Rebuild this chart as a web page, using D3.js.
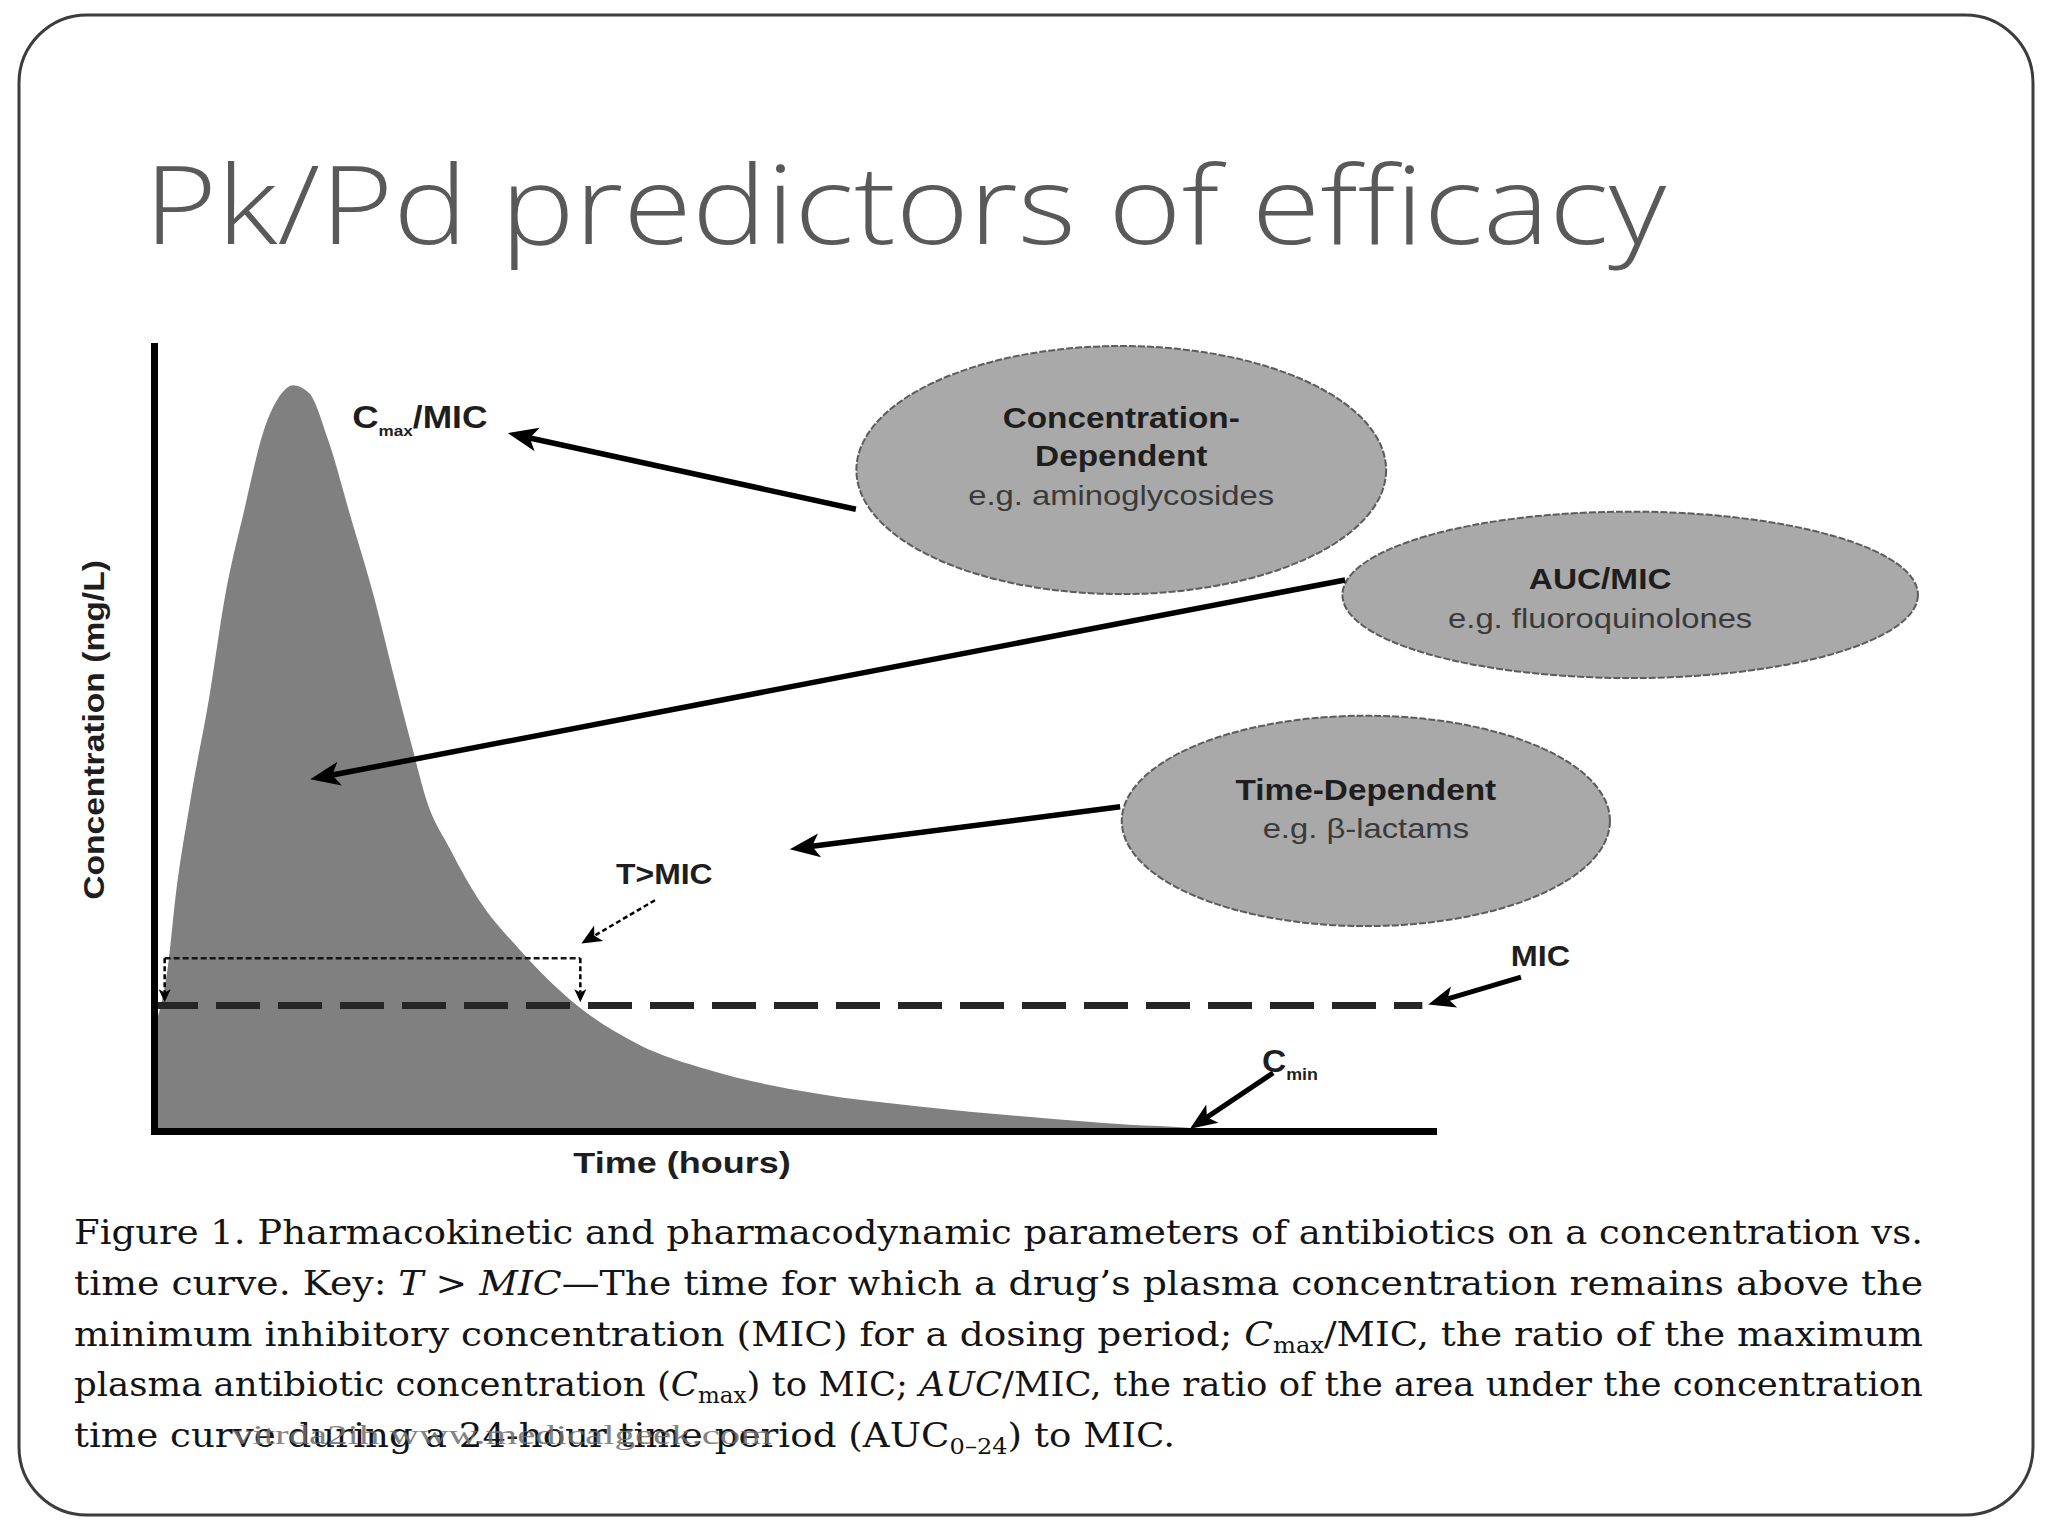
<!DOCTYPE html>
<html>
<head>
<meta charset="utf-8">
<script src="https://cdn.jsdelivr.net/npm/d3@7"></script>
<style>
    html, body { margin: 0; padding: 0; background: #fff; }
    #chart-area { width: 2048px; height: 1536px; }
</style>
</head>
<body>
<div id="chart-area"></div>
<script>

// concentration-time curve (x = hours, y = % of axis height)
const hours = [0, 0.28, 0.39, 0.68, 1.03, 1.33, 1.69, 2.05, 2.4, 2.61, 2.91, 3.27, 3.7, 4.13,
    4.48, 4.84, 5.12, 5.55, 6.14, 6.85, 7.94, 9.1, 10.4, 12.4, 14.4, 16.4, 18.3, 19.4, 19.6];
const concentration = [13, 22, 29, 42, 55, 68, 79, 89, 94, 95, 94, 88, 78, 68,
    58.5, 49, 42, 36, 29, 23.2, 16, 11, 7.8, 4.8, 3.1, 1.8, 0.8, 0.4, 0];

const micLevel = 16;
const micLineEnd = 23.8;
const aboveMicWindow = [0.2, 8.0];
const bracketLevel = 22;

const axisTitles = ["Time (hours)", "Concentration (mg/L)"];
const classTitles = [["Concentration-", "Dependent"], ["AUC/MIC"], ["Time-Dependent"]];
const classExamples = ["e.g. aminoglycosides", "e.g. fluoroquinolones", "e.g. \u03b2-lactams"];

const slideTitle = "Pk/Pd predictors of efficacy";
const captionLines = [
    [["Figure 1. Pharmacokinetic and pharmacodynamic parameters of antibiotics on a concentration vs.", ""]],
    [["time curve. Key: ", ""], ["T > MIC", "i"], ["\u2014The time for which a drug\u2019s plasma concentration remains above the", ""]],
    [["minimum inhibitory concentration (MIC) for a dosing period; ", ""], ["C", "i"], ["max", "sub"], ["/MIC, the ratio of the maximum", ""]],
    [["plasma antibiotic concentration (", ""], ["C", "i"], ["max", "sub"], [") to MIC; ", ""], ["AUC", "i"], ["/MIC, the ratio of the area under the concentration", ""]],
    [["time curve during a 24-hour time period (AUC", ""], ["0\u201324", "sub"], [") to MIC.", ""]]
];
const watermark = "vitrda2ih www.medicalgeek.com";


class PkPdChart {

    constructor(parentElement) {
        this.parentElement = parentElement;
        this.displayData = hours.map((t, i) => ({t: t, c: concentration[i]}));
    }

    initVis() {
        let vis = this;

        vis.svg = d3.select("#" + vis.parentElement).append("svg")
            .attr("width", 2048)
            .attr("height", 1536);

        // slide frame
        vis.svg.append("rect")
            .attr("x", 19).attr("y", 15)
            .attr("width", 2014).attr("height", 1500)
            .attr("rx", 68).attr("ry", 68)
            .style("fill", "#fff")
            .style("stroke", "#3c3c3c")
            .style("stroke-width", 3);

        vis.svg.append("text")
            .attr("x", 144)
            .attr("y", 244)
            .attr("textLength", 1522)
            .attr("lengthAdjust", "spacingAndGlyphs")
            .text(slideTitle)
            .style("font-family", "'Open Sans', 'Noto Sans', sans-serif")
            .style("font-weight", 300)
            .style("font-size", "108px")
            .style("fill", "#595959");

        // scales
        vis.x = d3.scaleLinear().domain([0, 24]).range([154, 1433]);
        vis.y = d3.scaleLinear().domain([0, 100]).range([1131, 346]);

        // shaded area under the curve
        vis.area = d3.area()
            .x(d => vis.x(d.t))
            .y0(vis.y(0))
            .y1(d => vis.y(d.c))
            .curve(d3.curveMonotoneX);

        vis.svg.append("path")
            .datum(vis.displayData)
            .attr("d", vis.area)
            .style("fill", "#808080");

        // MIC dashed line
        vis.line = d3.line().x(d => vis.x(d[0])).y(d => vis.y(d[1]));
        vis.svg.append("path")
            .attr("d", vis.line([[0, micLevel], [micLineEnd, micLevel]]))
            .style("fill", "none")
            .style("stroke", "#262626")
            .style("stroke-width", 7)
            .style("stroke-dasharray", "44,18");

        // T>MIC bracket (dotted)
        vis.svg.append("path")
            .attr("d", vis.line([[aboveMicWindow[0], bracketLevel], [aboveMicWindow[1], bracketLevel]]))
            .style("fill", "none")
            .style("stroke", "#161616")
            .style("stroke-width", 2.5)
            .style("stroke-dasharray", "6,3");
        aboveMicWindow.forEach(t => {
            vis.drawArrow([t, bracketLevel], [t, micLevel + 0.4], {width: 2.5, head: 13, half: 6, dash: "5,3"});
        });

        // axes, no ticks
        let xAxis = d3.axisBottom(vis.x).tickValues([]).tickSizeOuter(0);
        let yAxis = d3.axisLeft(vis.y).tickValues([]).tickSizeOuter(0);

        vis.svg.append("g")
            .attr("transform", "translate(0," + vis.y(0) + ")")
            .call(xAxis)
            .call(g => g.select(".domain").style("stroke", "#000").style("stroke-width", 7).style("stroke-linecap", "square"));
        vis.svg.append("g")
            .attr("transform", "translate(" + vis.x(0) + ",0)")
            .call(yAxis)
            .call(g => g.select(".domain").style("stroke", "#000").style("stroke-width", 7).style("stroke-linecap", "square"));

        // axis titles
        let xt = vis.svg.append("text")
            .attr("x", 682).attr("y", 1173)
            .attr("text-anchor", "middle")
            .text(axisTitles[0]);
        vis.boldLabel(xt, 30);
        vis.stretch(xt, 1.2);

        let yt = vis.svg.append("text")
            .attr("transform", "translate(104,730) rotate(-90)")
            .attr("text-anchor", "middle")
            .text(axisTitles[1]);
        vis.boldLabel(yt, 30);
        vis.stretch(yt, 1.12);

        // class bubbles (positions in data units)
        vis.bubbles = [
            {cx: 18.15, cy: 84.2, rx: 4.97, ry: 15.8, dx: 0, lines: [-42, -4, 35]},
            {cx: 27.7, cy: 68.3, rx: 5.4, ry: 10.6, dx: -30, lines: [-6, 33]},
            {cx: 22.74, cy: 39.5, rx: 4.58, ry: 13.4, dx: 0, lines: [-21, 17]}
        ];

        vis.bubbles.forEach((b, i) => {
            let cx = vis.x(b.cx), cy = vis.y(b.cy);
            vis.svg.append("ellipse")
                .attr("cx", cx).attr("cy", cy)
                .attr("rx", vis.x(b.cx + b.rx) - cx)
                .attr("ry", vis.y(b.cy - b.ry) - cy)
                .style("fill", "#a9a9a9")
                .style("stroke", "#5c5c5c")
                .style("stroke-width", 2)
                .style("stroke-dasharray", "7,2");

            classTitles[i].forEach((txt, j) => {
                let t = vis.svg.append("text")
                    .attr("x", cx + b.dx).attr("y", cy + b.lines[j])
                    .attr("text-anchor", "middle")
                    .text(txt);
                vis.boldLabel(t, 29);
                vis.stretch(t, 1.15);
            });
            let ex = vis.svg.append("text")
                .attr("x", cx + b.dx).attr("y", cy + b.lines[classTitles[i].length])
                .attr("text-anchor", "middle")
                .text(classExamples[i])
                .style("font-family", "'Liberation Sans', Arial, sans-serif")
                .style("font-size", "28px")
                .style("fill", "#3a3a3a");
            vis.stretch(ex, 1.17);
        });

        // pointer arrows (data units)
        let thick = {width: 5.5, head: 30, half: 12};
        vis.drawArrow([13.17, 79.2], [6.64, 88.9], thick);
        vis.drawArrow([22.35, 70.2], [2.93, 44.8], thick);
        vis.drawArrow([18.13, 41.3], [11.93, 35.9], thick);
        vis.drawArrow([25.65, 19.6], [23.91, 16.1], {width: 5, head: 27, half: 11});
        vis.drawArrow([21.0, 7.4], [19.44, 0.3], {width: 5, head: 27, half: 11});
        vis.drawArrow([9.4, 29.4], [8.02, 23.9], {width: 2.5, head: 20, half: 9, dash: "5,3"});

        // labels with subscripts
        vis.subLabel([3.72, 89.6], [["C", 32], ["max", 15, 8], ["/MIC", 31, -8]], 1.14);
        vis.subLabel([8.67, 31.5], [["T>MIC", 29]], 1.1);
        vis.subLabel([25.46, 21.0], [["MIC", 30]], 1.08);
        vis.subLabel([20.79, 7.5], [["C", 32], ["min", 17, 8]], 1.05);

        // figure caption, justified to the column like the source figure
        let baselines = [1244, 1295, 1346, 1396, 1447];
        captionLines.forEach((segs, i) => {
            let t = vis.svg.append("text")
                .attr("x", 74).attr("y", baselines[i])
                .style("font-family", "'DejaVu Serif', 'Liberation Serif', serif")
                .style("font-size", "34px")
                .style("fill", "#141414");
            let shift = 0;
            segs.forEach(s => {
                let ts = t.append("tspan").text(s[0]);
                if (s[1] === "i") ts.style("font-style", "italic");
                if (s[1] === "sub") {
                    ts.attr("dy", 7 - shift).style("font-size", "22px");
                    shift = 7;
                } else if (shift) {
                    ts.attr("dy", -shift);
                    shift = 0;
                }
            });
            t.attr("textLength", i < captionLines.length - 1 ? 1849 : 1101)
                .attr("lengthAdjust", "spacingAndGlyphs");
        });

        vis.svg.append("text")
            .attr("x", 232).attr("y", 1444)
            .attr("textLength", 540)
            .attr("lengthAdjust", "spacingAndGlyphs")
            .text(watermark)
            .style("font-family", "'Liberation Serif', serif")
            .style("font-size", "27px")
            .style("fill", "#6e6e6e")
            .style("opacity", 0.85);
    }

    boldLabel(sel, size) {
        sel.style("font-family", "'Liberation Sans', Arial, sans-serif")
            .style("font-weight", "bold")
            .style("font-size", size + "px")
            .style("fill", "#1e1e1e");
    }

    // widen text a bit, the figure's lettering is stretched horizontally
    stretch(sel, k) {
        let w = sel.node().getComputedTextLength();
        sel.attr("textLength", w * k).attr("lengthAdjust", "spacingAndGlyphs");
    }

    subLabel(pos, parts, k) {
        let vis = this;
        let t = vis.svg.append("text")
            .attr("x", vis.x(pos[0]))
            .attr("y", vis.y(pos[1]));
        vis.boldLabel(t, parts[0][1]);
        parts.forEach(p => {
            let ts = t.append("tspan").text(p[0]).style("font-size", p[1] + "px");
            if (p[2]) ts.attr("dy", p[2]);
        });
        vis.stretch(t, k);
    }

    drawArrow(from, to, opt) {
        let vis = this;
        let x0 = vis.x(from[0]), y0 = vis.y(from[1]);
        let x1 = vis.x(to[0]), y1 = vis.y(to[1]);
        let a = Math.atan2(y1 - y0, x1 - x0);
        let c = Math.cos(a), s = Math.sin(a);
        let bx = x1 - opt.head * c, by = y1 - opt.head * s;
        let nx = x1 - opt.head * 0.75 * c, ny = y1 - opt.head * 0.75 * s;

        vis.svg.append("path")
            .attr("d", d3.line()([[x0, y0], [nx, ny]]))
            .style("fill", "none")
            .style("stroke", "#000")
            .style("stroke-width", opt.width)
            .style("stroke-dasharray", opt.dash || null);

        vis.svg.append("path")
            .attr("d", d3.line()([[x1, y1], [bx - opt.half * s, by + opt.half * c], [nx, ny],
                [bx + opt.half * s, by - opt.half * c]]) + "Z")
            .style("fill", "#000");
    }
}

let chart = new PkPdChart("chart-area");
chart.initVis();

</script>
</body>
</html>
